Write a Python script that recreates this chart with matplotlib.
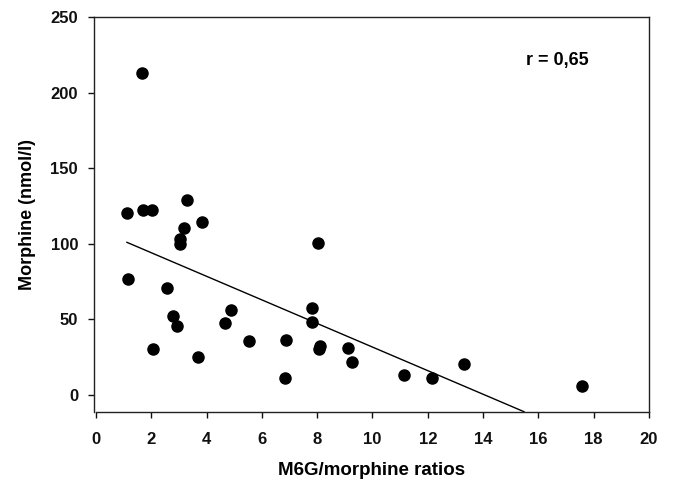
import matplotlib
matplotlib.use('Agg')
import matplotlib.pyplot as plt
import numpy as np

# data
ratio = [1.65, 1.11, 1.69, 2.03, 3.31, 3.82, 3.19, 3.05, 3.03, 8.04,
         1.16, 2.58, 2.80, 2.93, 2.06, 3.70, 4.65, 4.88, 5.55, 6.88,
         6.84, 7.81, 7.81, 8.10, 8.05, 9.10, 9.27, 11.14, 12.16, 13.30,
         17.58]
morphine = [212.7, 120.7, 122.6, 122.6, 129.2, 114.4, 110.2, 103.0, 99.9, 100.7,
            76.9, 70.8, 52.0, 45.8, 30.2, 25.1, 47.6, 56.0, 35.5, 36.4,
            11.0, 57.3, 48.5, 32.6, 30.6, 31.1, 22.0, 13.2, 11.0, 20.5,
            6.2]

# regression line ends
fit_x = [1.12, 15.48]
fit_y = [101.0, -11.0]

x_ticks = list(range(0, 21, 2))
y_ticks = [0, 50, 100, 150, 200, 250]

plt.rcParams['font.family'] = ['Liberation Sans', 'DejaVu Sans']
plt.rcParams['font.weight'] = 'bold'

fig = plt.figure(figsize=(6.73, 4.87), dpi=100)
ax = fig.add_axes([94 / 673, 1 - 412 / 487, (649 - 94) / 673, (412 - 17) / 487])

ax.plot(ratio, morphine, 'o', color='black', markersize=8, clip_on=False)
ax.plot(fit_x, fit_y, color='black', linewidth=1.0)

ax.set_xlim(-0.07, 20)
ax.set_ylim(-11.2, 250)
ax.set_xticks(x_ticks)
ax.set_yticks(y_ticks)
ax.spines['bottom'].set_bounds(0, 20)
for s in ax.spines.values():
    s.set_linewidth(1.0)
    s.set_color('#222222')

ax.tick_params(axis='both', direction='out', length=4.5, width=1.0,
               labelsize=12, colors='#111111')
ax.tick_params(axis='y', pad=7)
ax.tick_params(axis='x', pad=10)
for lab in ax.get_xticklabels() + ax.get_yticklabels():
    lab.set_fontweight('bold')

ax.set_xlabel('M6G/morphine ratios', fontsize=13.5, fontweight='bold', labelpad=11)
ax.set_ylabel('Morphine (nmol/l)', fontsize=13, fontweight='bold', labelpad=10.5)

ax.text(16.67, 221, 'r = 0,65', fontsize=13, fontweight='bold',
        ha='center', va='center')

fig.savefig('out.png', dpi=100)
